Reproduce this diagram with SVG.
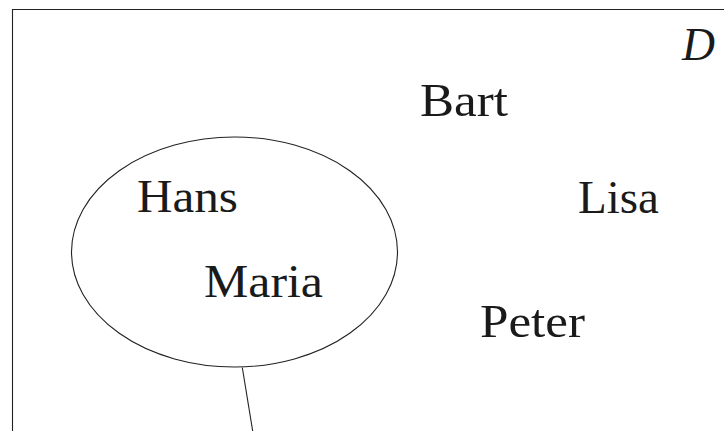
<svg xmlns="http://www.w3.org/2000/svg" width="724" height="431" viewBox="0 0 724 431">
  <style>
    .lbl { font-family: "Liberation Serif", "DejaVu Serif", serif; font-size: 46px; fill: #1a1a1a; }
    .it { font-style: italic; }
    .ln { fill: none; stroke: #222; stroke-width: 1.1; }
  </style>
  <rect width="724" height="431" fill="#fff"/>
  <!-- outer domain frame -->
  <g id="frame">
    <polyline class="ln" points="12.5,431 12.5,9.5 724,9.5"/>
    <text class="lbl it" x="682" y="60" textLength="33" lengthAdjust="spacingAndGlyphs">D</text>
  </g>
  <!-- connectors -->
  <g id="connectors">
    <line class="ln" x1="242.3" y1="367.5" x2="252.7" y2="431"/>
  </g>
  <g id="set">
    <ellipse class="ln" cx="234.5" cy="252" rx="163" ry="115"/>
  </g>
  <g id="hans"><text class="lbl" x="137" y="212" textLength="101" lengthAdjust="spacingAndGlyphs">Hans</text></g>
  <g id="maria"><text class="lbl" x="204" y="297" textLength="119" lengthAdjust="spacingAndGlyphs">Maria</text></g>
  <g id="bart"><text class="lbl" x="420" y="116" textLength="88" lengthAdjust="spacingAndGlyphs">Bart</text></g>
  <g id="lisa"><text class="lbl" x="578" y="213" textLength="81" lengthAdjust="spacingAndGlyphs">Lisa</text></g>
  <g id="peter"><text class="lbl" x="480" y="337" textLength="105" lengthAdjust="spacingAndGlyphs">Peter</text></g>
</svg>
